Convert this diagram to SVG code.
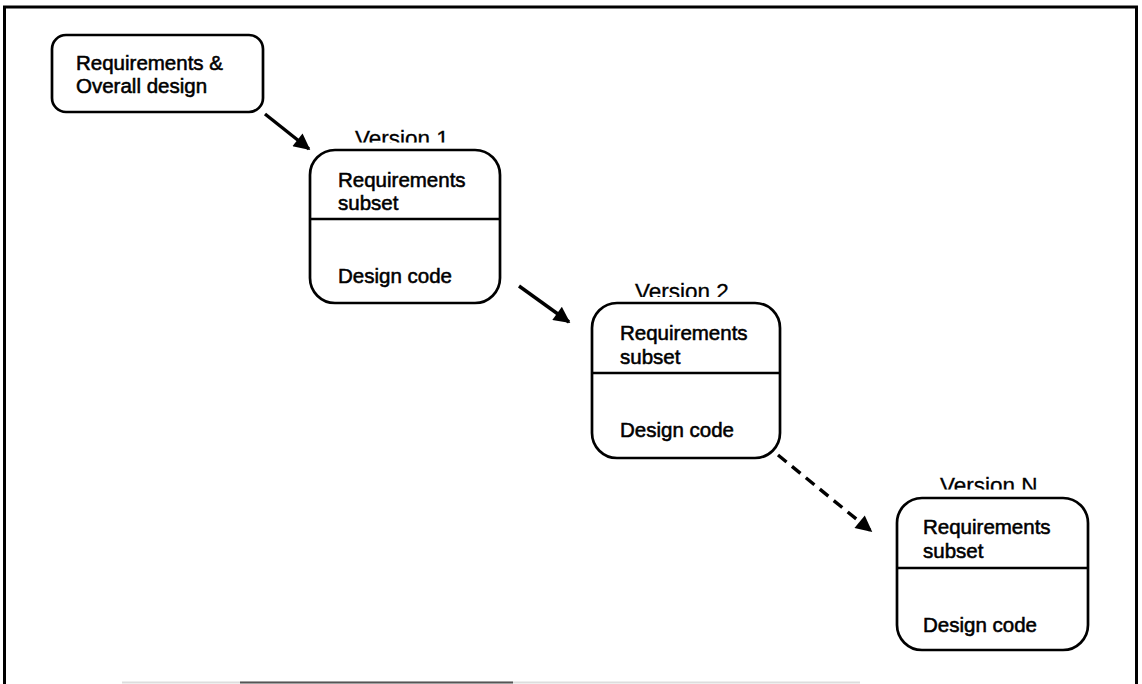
<svg xmlns="http://www.w3.org/2000/svg" width="1142" height="684" viewBox="0 0 1142 684">
  <style>
    .frame { fill: none; stroke: #000; stroke-width: 3; }
    .box { fill: #fff; stroke: #000; stroke-width: 2.7; }
    .divider { stroke: #000; stroke-width: 2.7; }
    .label { font-family: "Liberation Sans", Arial, sans-serif; font-size: 20.5px; fill: #000; stroke: #000; stroke-width: 0.55; }
    .title { font-family: "Liberation Sans", Arial, sans-serif; font-size: 22.5px; fill: #000; stroke: #000; stroke-width: 0.3; }
    .conn { fill: none; stroke: #000; stroke-width: 3.4; }
    .dashed { stroke-dasharray: 11 7; }
  </style>
  <defs>
    <marker id="arrow" viewBox="0 0 10 10" refX="9" refY="5" markerWidth="5.5" markerHeight="4.8" markerUnits="strokeWidth" orient="auto">
      <path d="M0,0 L10,5 L0,10 Z" fill="#000"/>
    </marker>
    <clipPath id="clipV1"><rect x="300" y="110" width="200" height="32.5"/></clipPath>
    <clipPath id="clipV2"><rect x="580" y="265" width="200" height="32"/></clipPath>
    <clipPath id="clipVN"><rect x="880" y="460" width="200" height="29.5"/></clipPath>
  </defs>

  <!-- outer frame -->
  <g id="frame">
    <path class="frame" d="M4.5,684 L4.5,7 L1136.5,7 L1136.5,684"/>
    <line x1="122" y1="682.5" x2="860" y2="682.5" stroke="#ddd" stroke-width="2"/>
    <line x1="240" y1="682.5" x2="513" y2="682.5" stroke="#555" stroke-width="2"/>
  </g>

  <!-- connectors -->
  <g id="connectors">
    <line class="conn" x1="265" y1="114" x2="309" y2="149" marker-end="url(#arrow)"/>
    <line class="conn" x1="519" y1="286" x2="569" y2="322" marker-end="url(#arrow)"/>
    <line class="conn dashed" x1="778" y1="455" x2="871" y2="531" marker-end="url(#arrow)"/>
  </g>

  <!-- start node -->
  <g id="node-requirements">
    <rect class="box" x="52" y="35" width="211" height="77" rx="14" ry="14"/>
    <text class="label" x="76" y="70">Requirements &amp;</text>
    <text class="label" x="76" y="93">Overall design</text>
  </g>

  <!-- version 1 -->
  <g id="node-version1">
    <text class="title" x="355" y="146" clip-path="url(#clipV1)">Version 1</text>
    <rect class="box" x="310" y="150" width="190" height="153" rx="25" ry="25"/>
    <line class="divider" x1="310" y1="219" x2="500" y2="219"/>
    <text class="label" x="338" y="187">Requirements</text>
    <text class="label" x="338" y="210">subset</text>
    <text class="label" x="338" y="283">Design code</text>
  </g>

  <!-- version 2 -->
  <g id="node-version2">
    <text class="title" x="635" y="299" clip-path="url(#clipV2)">Version 2</text>
    <rect class="box" x="592" y="303" width="188" height="155" rx="25" ry="25"/>
    <line class="divider" x1="592" y1="373" x2="780" y2="373"/>
    <text class="label" x="620" y="340">Requirements</text>
    <text class="label" x="620" y="364">subset</text>
    <text class="label" x="620" y="437">Design code</text>
  </g>

  <!-- version N -->
  <g id="node-versionN">
    <text class="title" x="940" y="493" clip-path="url(#clipVN)">Version N</text>
    <rect class="box" x="897" y="498" width="191" height="152" rx="25" ry="25"/>
    <line class="divider" x1="897" y1="568" x2="1088" y2="568"/>
    <text class="label" x="923" y="534">Requirements</text>
    <text class="label" x="923" y="558">subset</text>
    <text class="label" x="923" y="632">Design code</text>
  </g>
</svg>
